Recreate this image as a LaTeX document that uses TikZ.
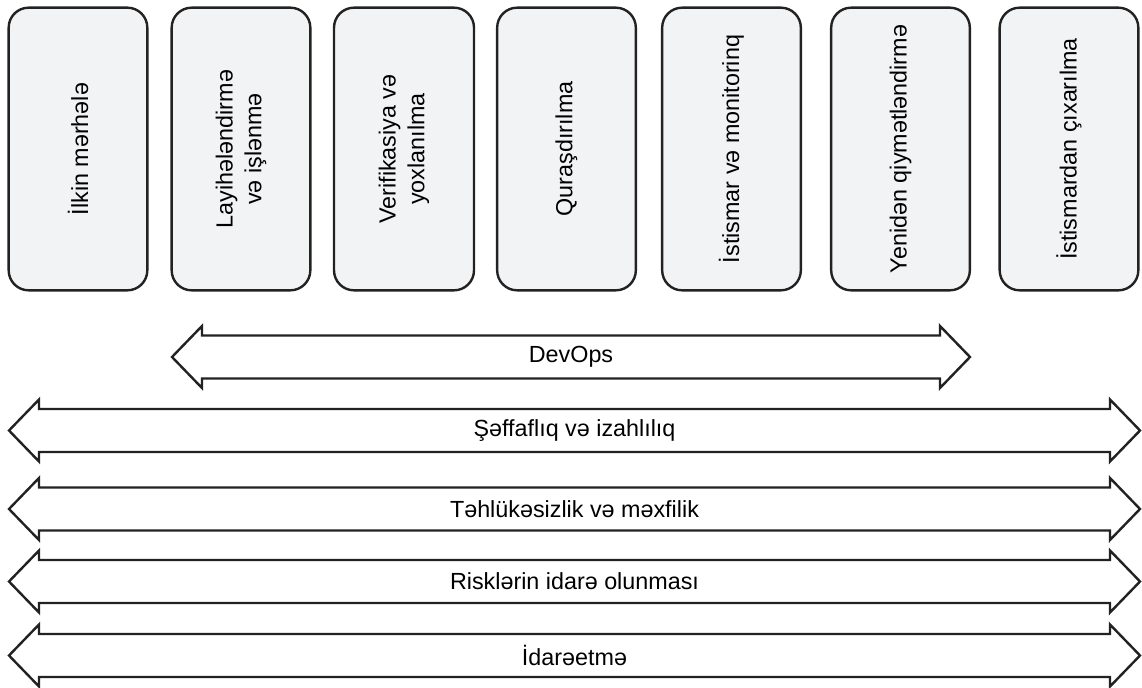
\documentclass[tikz,border=0pt]{standalone}
\usepackage{fontspec}
\setmainfont{Liberation Sans}
\definecolor{boxfill}{HTML}{F2F3F5}
\definecolor{edge}{HTML}{222222}
\newcommand{\dblarr}[5]{% name, x-left tip, x-right tip, y center, text
  \draw[arrowshape] (#2,#4) -- (#2+30,#4-31) -- (#2+30,#4-21.5) -- (#3-30,#4-21.5) -- (#3-30,#4-31)
    -- (#3,#4) -- (#3-30,#4+31) -- (#3-30,#4+21.5) -- (#2+30,#4+21.5) -- (#2+30,#4+31) -- cycle;
  \node[lbl] (#1) at ({(#2+#3)/2},#4) {#5};
}
\begin{document}
\begin{tikzpicture}[x=0.75pt,y=-0.75pt,
  box/.style={draw=edge, line width=1.8pt, fill=boxfill, rounded corners=15pt,
    minimum width=212pt, minimum height=104pt, inner sep=0pt, align=center,
    font=\fontsize{17.5}{21.5}\selectfont, rotate=90},
  arrowshape/.style={draw=edge, line width=1.8pt, fill=white, line join=miter},
  lbl/.style={font=\fontsize{17.5}{21}\selectfont, inner sep=0pt}]
\useasboundingbox (0,0) rectangle (1142,688);
\node[box] (b1) at (78,149) {İlkin mərhələ};
\node[box] (b2) at (241,149) {Layihələndirmə\\və işlənmə};
\node[box, minimum height=105pt] (b3) at (404,149) {Verifikasiya və\\yoxlanılma};
\node[box] (b4) at (566.5,149) {Quraşdırılma};
\node[box] (b5) at (731.5,149) {İstismar və monitorinq};
\node[box] (b6) at (900.5,149) {Yenidən qiymətləndirmə};
\node[box] (b7) at (1069,149) {İstismardan çıxarılma};
\dblarr{devops}{172}{970}{357}{DevOps}
\dblarr{seffaf}{9}{1140}{430.5}{Şəffaflıq və izahlılıq}
\dblarr{tehluk}{9}{1140}{509}{Təhlükəsizlik və məxfilik}
\dblarr{risk}{9}{1140}{581.5}{Risklərin idarə olunması}
\dblarr{idare}{9}{1140}{655.5}{İdarəetmə}
\end{tikzpicture}
\end{document}
